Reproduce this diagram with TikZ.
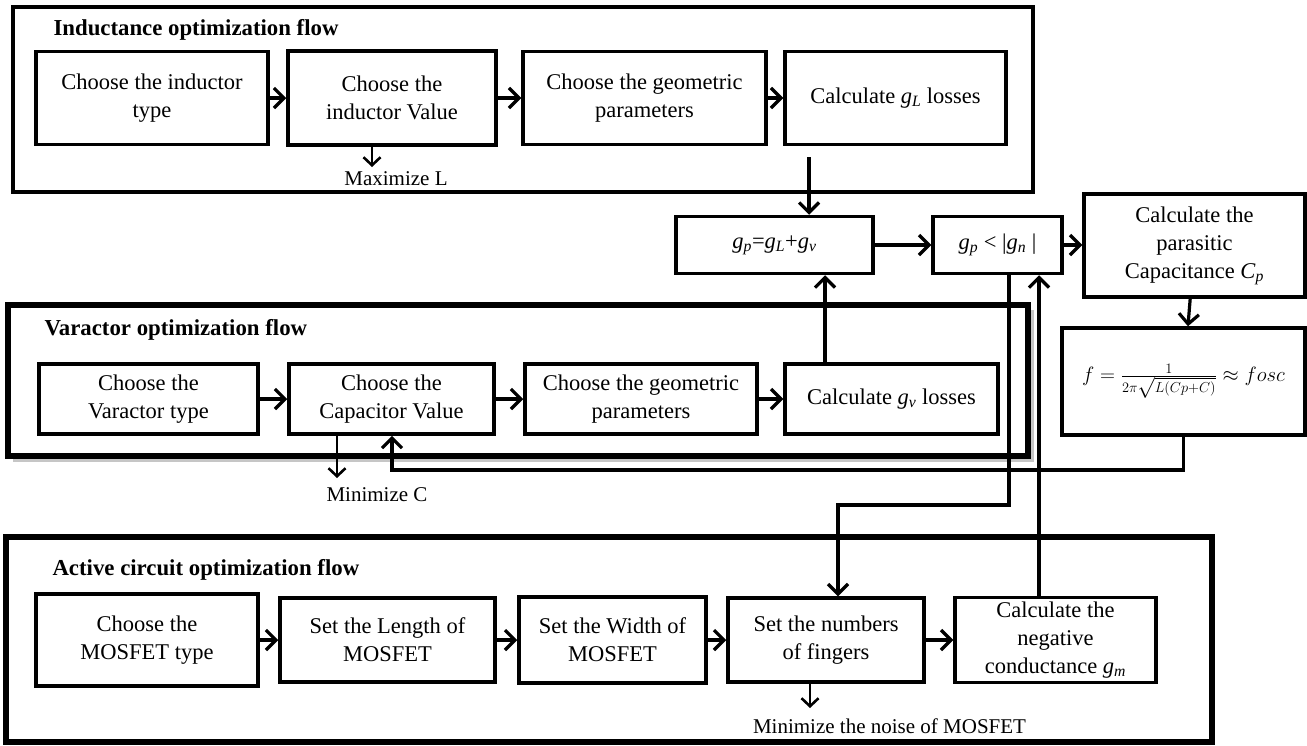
\documentclass[tikz,border=0pt]{standalone}
\usepackage{fontspec}
\setmainfont{Liberation Serif}
\usetikzlibrary{arrows.meta}
\newcommand{\gsub}[1]{\textit{g}\textsubscript{\textit{#1}}}
\begin{document}
\begin{tikzpicture}[x=1pt,y=-1pt,
  box/.style={draw, line width=3.5pt, align=center, inner sep=1pt, font=\fontsize{22.5}{28}\selectfont},
  frameA/.style={draw, line width=3.5pt},
  frameB/.style={draw, line width=5.5pt},
  title/.style={anchor=west, font=\fontsize{22.8}{26}\selectfont\bfseries},
  lbl/.style={font=\fontsize{21}{25}\selectfont},
  arr/.style={line width=3.2pt, -{Straight Barb[length=10pt,width=20pt]}},
  thin/.style={line width=2.6pt, -{Straight Barb[length=8pt,width=17pt]}}]
\useasboundingbox (0,0) rectangle (1307,745);
% frames
\draw[frameA] (13,7) rectangle (1033,192);
\draw[gray!45, line width=4pt] (13,460) -- (1032,460) -- (1032,310);
\draw[frameB] (8,305) rectangle (1028,456);
\draw[frameB] (6,537) rectangle (1212,742);
\node[title] (t1) at (50,30) {Inductance optimization flow};
\node[title] (t2) at (41,330) {Varactor optimization flow};
\node[title] (t3) at (49,570) {Active circuit optimization flow};
% inductance row
\node[box, minimum width=232pt, minimum height=93pt] (i1) at (152,98) {Choose the inductor\\type};
\node[box, minimum width=208pt, minimum height=94pt] (i2) at (392,98) {Choose the\\inductor Value};
\node[box, minimum width=243pt, minimum height=93pt] (i3) at (644.5,98) {Choose the geometric\\parameters};
\node[box, minimum width=221pt, minimum height=93pt] (i4) at (895.5,98) {Calculate \gsub{L} losses};
% middle
\node[box, minimum width=197pt, minimum height=57pt] (gp) at (774.5,245) {\gsub{p}=\gsub{L}+\gsub{v}};
\node[box, minimum width=129pt, minimum height=57pt] (gn) at (997.5,245) {\gsub{p} \textless{} |\gsub{n} |};
\node[box, minimum width=221pt, minimum height=103pt] (par) at (1194.5,245.5) {Calculate the\\parasitic\\Capacitance \textit{C}\textsubscript{\textit{p}}};
\node[box, minimum width=243pt, minimum height=107pt] (fb) at (1183.5,381.5) {$f=\frac{1}{2\pi\sqrt{L(Cp+C)}}\approx fosc$};
% varactor row
\node[box, minimum width=219pt, minimum height=70pt] (v1) at (148.5,399) {Choose the\\Varactor type};
\node[box, minimum width=205pt, minimum height=70pt] (v2) at (391.5,399) {Choose the\\Capacitor Value};
\node[box, minimum width=232pt, minimum height=70pt] (v3) at (641,399) {Choose the geometric\\parameters};
\node[box, minimum width=213pt, minimum height=70pt] (v4) at (891.5,399) {Calculate \gsub{v} losses};
% active row
\node[box, minimum width=222pt, minimum height=92pt] (a1) at (147,640) {Choose the\\MOSFET type};
\node[box, minimum width=215pt, minimum height=84pt] (a2) at (387.5,640) {Set the Length of\\MOSFET};
\node[box, minimum width=187pt, minimum height=86pt] (a3) at (612.5,640) {Set the Width of\\MOSFET};
\node[box, minimum width=196pt, minimum height=84pt] (a4) at (826,640) {Set the numbers\\of fingers};
\node[box, minimum width=201pt, minimum height=85pt] (a5) at (1055.5,640) {Calculate the\\negative\\conductance \gsub{m}};
% labels
\node[lbl] (mL) at (396,179) {Maximize L};
\node[lbl] (mC) at (377,495) {Minimize C};
\node[lbl] (mN) at (889.5,726) {Minimize the noise of MOSFET};
% coordinates
\coordinate (cL) at (372,167);
\coordinate (cC) at (337,478);
\coordinate (cN) at (810,708);
\coordinate (d1) at (809,157);
\coordinate (u1) at (825,0);
\coordinate (fbk) at (392,470);
\coordinate (dn) at (1009,505);
\coordinate (dn2) at (838,505);
\coordinate (up) at (1039,0);
% connectors
\draw[arr] (i1) -- (i2);
\draw[arr] (i2) -- (i3);
\draw[arr] (i3) -- (i4);
\draw[thin] (cL |- i2.south) -- (cL);
\draw[arr] (d1) -- (d1 |- gp.north);
\draw[arr] (gp) -- (gn);
\draw[arr] (gn) -- (gn -| par.west);
\draw[arr] (par) -- (fb);
\draw[arr] (fb.south) |- (fbk) -- (fbk |- v2.south);
\draw[arr] (v1) -- (v2);
\draw[arr] (v2) -- (v3);
\draw[arr] (v3) -- (v4);
\draw[thin] (cC |- v2.south) -- (cC);
\draw[arr] (u1 |- v4.north) -- (u1 |- gp.south);
\draw[arr] (dn |- gn.south) -- (dn) -- (dn2) -- (dn2 |- a4.north);
\draw[arr] (up |- a5.north) -- (up |- gn.south);
\draw[arr] (a1) -- (a2);
\draw[arr] (a2) -- (a3);
\draw[arr] (a3) -- (a4);
\draw[arr] (a4) -- (a5);
\draw[thin] (cN |- a4.south) -- (cN);
\end{tikzpicture}
\end{document}
